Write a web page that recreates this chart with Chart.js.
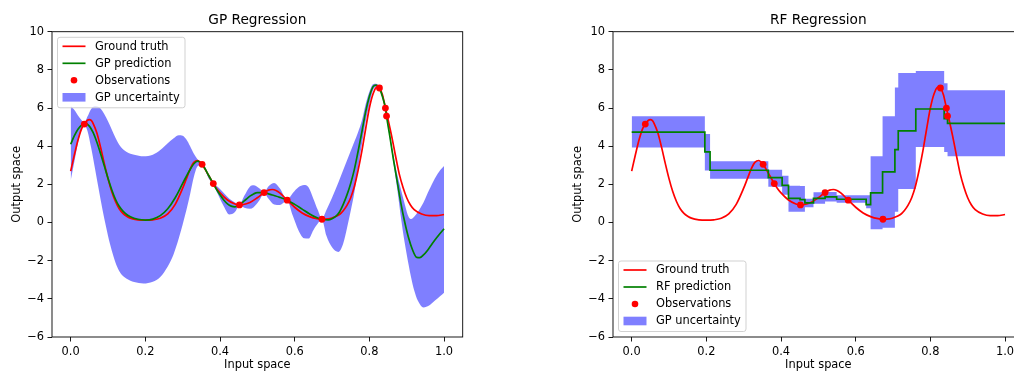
<!DOCTYPE html>
<html><head><meta charset="utf-8">
<script src="https://cdn.jsdelivr.net/npm/chart.js@4.4.1/dist/chart.umd.min.js"></script>
<style>
html,body{margin:0;padding:0;background:#fff;overflow:hidden;width:1014px;height:372px;}
.wrap{position:absolute;top:0;width:470px;height:372px;}
</style></head><body>
<div class="wrap" style="left:0px"><canvas id="c1" width="470" height="372"></canvas></div>
<div class="wrap" style="left:561px"><canvas id="c2" width="470" height="372"></canvas></div>
<script>
// ---------- data ----------
const xTickValues = [0, 0.2, 0.4, 0.6, 0.8, 1.0];
const xTickLabels = ['0.0', '0.2', '0.4', '0.6', '0.8', '1.0'];
const yTickValues = [-6, -4, -2, 0, 2, 4, 6, 8, 10];
const yTickLabels = ['\u22126', '\u22124', '\u22122', '0', '2', '4', '6', '8', '10'];

const obsX = [0.0365, 0.352, 0.382, 0.452, 0.518, 0.580, 0.673, 0.827, 0.843, 0.846];
const obsY = [5.16, 3.05, 2.04, 0.92, 1.57, 1.17, 0.17, 7.05, 6.00, 5.58];

const gtX = [0.00,0.01,0.02,0.03,0.037,0.045,0.05,0.055,0.06,0.07,0.08,0.09,0.10,0.11,0.12,0.13,0.14,0.15,0.16,0.18,0.20,0.22,0.24,0.26,0.28,0.30,0.31,0.32,0.33,0.34,0.352,0.36,0.37,0.382,0.39,0.40,0.42,0.44,0.452,0.46,0.48,0.50,0.518,0.53,0.54,0.55,0.56,0.58,0.60,0.62,0.64,0.66,0.673,0.69,0.70,0.72,0.73,0.74,0.75,0.76,0.77,0.78,0.79,0.80,0.81,0.82,0.827,0.835,0.843,0.846,0.85,0.86,0.87,0.88,0.89,0.90,0.91,0.92,0.94,0.96,0.98,1.00];
const gtY = [2.69,3.55,4.35,4.95,5.16,5.36,5.39,5.35,5.20,4.70,3.95,3.10,2.30,1.62,1.10,0.72,0.48,0.33,0.23,0.14,0.12,0.14,0.22,0.45,0.95,1.80,2.30,2.80,3.15,3.25,3.05,2.80,2.45,2.04,1.80,1.55,1.18,0.97,0.92,0.93,1.05,1.30,1.57,1.70,1.73,1.68,1.55,1.17,0.80,0.50,0.31,0.20,0.17,0.19,0.24,0.42,0.62,0.90,1.30,1.90,2.75,3.75,4.90,6.00,6.75,7.10,7.05,6.70,6.00,5.75,5.40,4.50,3.50,2.55,1.85,1.30,0.92,0.68,0.45,0.36,0.36,0.42];

const gpX = [0.00,0.01,0.02,0.03,0.04,0.05,0.06,0.07,0.08,0.09,0.10,0.11,0.12,0.13,0.14,0.15,0.16,0.18,0.20,0.22,0.24,0.26,0.28,0.30,0.32,0.33,0.34,0.352,0.36,0.37,0.382,0.39,0.40,0.41,0.42,0.43,0.44,0.452,0.46,0.47,0.48,0.49,0.50,0.518,0.53,0.54,0.56,0.58,0.60,0.62,0.64,0.66,0.673,0.69,0.70,0.71,0.72,0.73,0.74,0.75,0.76,0.77,0.78,0.79,0.80,0.81,0.818,0.827,0.835,0.843,0.846,0.855,0.865,0.875,0.885,0.895,0.905,0.915,0.927,0.935,0.945,0.955,0.965,0.975,0.985,1.00];
const gpMean = [4.10,4.55,4.90,5.12,5.20,5.05,4.72,4.22,3.62,2.98,2.32,1.72,1.22,0.85,0.60,0.42,0.30,0.17,0.13,0.18,0.36,0.72,1.30,2.05,2.78,3.08,3.22,3.05,2.82,2.45,2.04,1.75,1.45,1.18,0.98,0.86,0.82,0.92,1.05,1.22,1.38,1.50,1.57,1.57,1.50,1.44,1.32,1.17,0.95,0.70,0.45,0.25,0.17,0.14,0.20,0.32,0.55,0.95,1.45,2.05,2.80,3.75,4.75,5.80,6.60,7.12,7.20,7.05,6.60,6.00,5.58,4.50,3.25,2.10,0.95,0.00,-0.80,-1.40,-1.83,-1.84,-1.70,-1.48,-1.20,-0.93,-0.68,-0.33];

const bandX = [0.000,0.010,0.020,0.030,0.037,0.045,0.055,0.065,0.075,0.085,0.095,0.105,0.115,0.125,0.135,0.150,0.170,0.195,0.220,0.240,0.260,0.275,0.290,0.300,0.310,0.320,0.330,0.340,0.352,0.360,0.370,0.382,0.395,0.410,0.425,0.440,0.452,0.465,0.480,0.490,0.505,0.518,0.530,0.545,0.560,0.580,0.595,0.610,0.625,0.637,0.650,0.662,0.673,0.685,0.700,0.717,0.730,0.740,0.750,0.760,0.770,0.780,0.790,0.800,0.810,0.818,0.827,0.835,0.843,0.846,0.855,0.865,0.875,0.885,0.895,0.905,0.912,0.920,0.930,0.945,0.960,0.975,0.990,1.000];
const bandUpper = [6.10,5.90,5.60,5.35,5.25,5.55,5.95,6.10,6.05,5.85,5.50,5.10,4.65,4.25,3.95,3.70,3.55,3.47,3.55,3.80,4.15,4.40,4.57,4.55,4.35,4.00,3.60,3.30,3.08,2.90,2.50,2.07,1.85,1.55,1.25,1.05,0.95,1.40,1.88,1.95,1.80,1.60,1.90,2.07,1.80,1.20,1.55,1.85,1.97,1.85,1.25,0.65,0.20,0.65,1.30,2.10,2.75,3.25,3.75,4.25,4.75,5.35,6.20,6.85,7.25,7.27,7.08,6.65,6.03,5.62,4.60,3.45,2.50,1.70,0.95,0.30,0.18,0.30,0.55,1.05,1.70,2.30,2.75,2.96];
const bandLower = [2.20,3.20,4.20,4.95,5.10,4.80,3.90,2.85,1.75,0.70,-0.25,-1.10,-1.80,-2.35,-2.70,-2.95,-3.12,-3.19,-3.10,-2.85,-2.30,-1.70,-0.80,-0.10,0.65,1.50,2.40,2.95,3.02,2.75,2.30,2.01,1.45,0.85,0.42,0.55,0.89,0.78,0.72,0.80,1.15,1.54,1.25,0.95,0.92,1.14,0.35,-0.40,-0.82,-0.84,-0.40,-0.05,0.14,-0.70,-1.30,-1.54,-1.10,-0.30,0.60,1.60,2.90,4.10,5.30,6.20,6.95,7.12,7.02,6.55,5.97,5.55,4.35,3.05,1.70,0.20,-1.10,-2.20,-2.90,-3.55,-4.10,-4.45,-4.35,-4.10,-3.85,-3.68];

// RF step segments: start positions (last entry = end of last segment)
const rfX = [0.000,0.196,0.210,0.366,0.403,0.420,0.451,0.464,0.487,0.518,0.549,0.628,0.640,0.672,0.705,0.714,0.761,0.837,0.846,1.000];
const rfMean = [4.74,3.70,2.74,2.35,1.95,1.26,1.20,1.03,1.26,1.34,1.22,0.94,1.55,2.65,3.82,4.80,5.95,5.44,5.20,5.20];
const rfUpper = [5.57,4.64,3.21,2.76,2.45,1.93,1.92,1.25,1.58,1.60,1.43,1.43,3.47,5.57,7.07,7.84,7.94,7.30,6.93,6.93];
const rfLower = [3.93,2.72,2.30,1.88,1.45,0.56,0.56,0.80,0.98,1.10,1.03,0.75,-0.35,-0.28,0.56,1.75,3.96,3.70,3.47,3.47];

// ---------- helpers ----------
const pts = (xs, ys) => xs.map((x, i) => ({x: x, y: ys[i]}));
const FONT = '"DejaVu Sans", sans-serif';
Chart.defaults.font.family = FONT;
Chart.defaults.color = '#000';

const RED = '#ff0000', GREEN = '#008000', BAND = 'rgba(0,0,255,0.5)';
const LW = 1.7;

const framePlugin = {
  id: 'frame',
  afterDatasetsDraw(chart) {
    const {ctx, chartArea: a} = chart;
    ctx.save();
    ctx.strokeStyle = '#000';
    ctx.lineWidth = 0.9;
    ctx.strokeRect(a.left, a.top, a.right - a.left, a.bottom - a.top);
    ctx.restore();
  }
};

function legendPlugin(labels, corner) {
  return {
    id: 'customLegend',
    afterDraw(chart) {
      const {ctx, chartArea: a} = chart;
      const w = 127.5, h = 70.5;
      const x = a.left + 5.5;
      const y = corner === 'top' ? a.top + 5.6 : a.bottom - 5.5 - h;
      ctx.save();
      const r = 2.5;
      ctx.beginPath();
      ctx.moveTo(x + r, y);
      ctx.lineTo(x + w - r, y); ctx.arcTo(x + w, y, x + w, y + r, r);
      ctx.lineTo(x + w, y + h - r); ctx.arcTo(x + w, y + h, x + w - r, y + h, r);
      ctx.lineTo(x + r, y + h); ctx.arcTo(x, y + h, x, y + h - r, r);
      ctx.lineTo(x, y + r); ctx.arcTo(x, y, x + r, y, r);
      ctx.closePath();
      ctx.fillStyle = 'rgba(255,255,255,0.8)';
      ctx.fill();
      ctx.strokeStyle = '#cccccc';
      ctx.lineWidth = 0.9;
      ctx.stroke();
      const hx0 = x + 5, hx1 = x + 28;
      const kinds = ['line', 'line', 'dot', 'patch'];
      const colors = [RED, GREEN, RED, BAND];
      ctx.font = '11.4px ' + FONT;
      ctx.textBaseline = 'middle';
      labels.forEach((lab, i) => {
        const cy = y + 9 + i * 17;
        if (kinds[i] === 'line') {
          ctx.strokeStyle = colors[i]; ctx.lineWidth = LW;
          ctx.beginPath(); ctx.moveTo(hx0, cy); ctx.lineTo(hx1, cy); ctx.stroke();
        } else if (kinds[i] === 'dot') {
          ctx.fillStyle = colors[i];
          ctx.beginPath(); ctx.arc((hx0 + hx1) / 2, cy, 3.3, 0, Math.PI * 2); ctx.fill();
        } else {
          ctx.fillStyle = colors[i];
          ctx.fillRect(hx0, cy - 4.3, hx1 - hx0, 8.6);
        }
        ctx.fillStyle = '#000';
        ctx.fillText(lab, x + 37.5, cy + 0.5);
      });
      ctx.restore();
    }
  };
}

function axisCommon() {
  return {
    grid: {display: true, drawOnChartArea: false, drawTicks: true, tickLength: 4.5, tickColor: '#000', tickWidth: 0.9},
    border: {display: false}
  };
}

function makeChart(id, title, datasets, labels, corner) {
  const c = axisCommon();
  return new Chart(document.getElementById(id), {
    type: 'line',
    data: {datasets: datasets},
    options: {
      responsive: false,
      animation: false,
      devicePixelRatio: 1,
      layout: {padding: {left: 0, right: 7.3, top: 0, bottom: 0}},
      plugins: {
        legend: {display: false},
        tooltip: {enabled: false},
        filler: {drawTime: 'beforeDatasetsDraw'}
      },
      scales: {
        x: {
          type: 'linear', position: 'bottom', min: -0.05, max: 1.05,
          afterBuildTicks: s => { s.ticks = xTickValues.map(v => ({value: v})); },
          afterFit: s => { s.height = 35; },
          ticks: {autoSkip: false, maxRotation: 0, padding: 3.5, color: '#000', font: {size: 11.4},
                  callback: v => xTickLabels[xTickValues.findIndex(t => Math.abs(t - v) < 1e-9)]},
          grid: c.grid, border: c.border,
          title: {display: true, text: 'Input space', color: '#000', font: {size: 11.4}, padding: {top: 0, bottom: 0}}
        },
        xTop: {
          type: 'linear', position: 'top', min: -0.05, max: 1.05,
          afterFit: s => { s.height = 31.7; },
          ticks: {display: false}, grid: {display: false}, border: {display: false},
          title: {display: true, text: title, color: '#000', font: {size: 13.7}, padding: {top: 11.8, bottom: 0}}
        },
        y: {
          type: 'linear', position: 'left', min: -6, max: 10,
          afterBuildTicks: s => { s.ticks = yTickValues.map(v => ({value: v})); },
          afterFit: s => { s.width = 52; },
          ticks: {autoSkip: false, padding: 3.5, color: '#000', font: {size: 11.4},
                  callback: v => yTickLabels[yTickValues.indexOf(v)]},
          grid: c.grid, border: c.border,
          title: {display: true, text: 'Output space', color: '#000', font: {size: 11.4}, padding: {top: 10, bottom: 0}}
        }
      }
    },
    plugins: [framePlugin, legendPlugin(labels, corner)]
  });
}

const obsDs = {label: 'Observations', data: pts(obsX, obsY), showLine: false,
  pointRadius: 3.4, pointBackgroundColor: RED, pointBorderWidth: 0, pointBorderColor: RED, borderColor: RED};
const gtDs = () => ({label: 'Ground truth', data: pts(gtX, gtY), borderColor: RED, borderWidth: LW,
  pointRadius: 0, cubicInterpolationMode: 'monotone', fill: false});

makeChart('c1', 'GP Regression', [
  obsDs,
  {label: 'GP prediction', data: pts(gpX, gpMean), borderColor: GREEN, borderWidth: LW, pointRadius: 0, cubicInterpolationMode: 'monotone', fill: false},
  gtDs(),
  {label: 'upper', data: pts(bandX, bandUpper), borderColor: 'rgba(0,0,0,0)', borderWidth: 0, pointRadius: 0, cubicInterpolationMode: 'monotone', fill: false},
  {label: 'GP uncertainty', data: pts(bandX, bandLower), borderColor: 'rgba(0,0,0,0)', borderWidth: 0, pointRadius: 0, cubicInterpolationMode: 'monotone', fill: '-1', backgroundColor: BAND}
], ['Ground truth', 'GP prediction', 'Observations', 'GP uncertainty'], 'top');

makeChart('c2', 'RF Regression', [
  Object.assign({}, obsDs, {data: pts(obsX, obsY)}),
  {label: 'RF prediction', data: pts(rfX, rfMean), borderColor: GREEN, borderWidth: LW, pointRadius: 0, stepped: 'before', fill: false},
  gtDs(),
  {label: 'upper', data: pts(rfX, rfUpper), borderColor: 'rgba(0,0,0,0)', borderWidth: 0, pointRadius: 0, stepped: 'before', fill: false},
  {label: 'GP uncertainty', data: pts(rfX, rfLower), borderColor: 'rgba(0,0,0,0)', borderWidth: 0, pointRadius: 0, stepped: 'before', fill: '-1', backgroundColor: BAND}
], ['Ground truth', 'RF prediction', 'Observations', 'GP uncertainty'], 'bottom');
</script></body></html>
